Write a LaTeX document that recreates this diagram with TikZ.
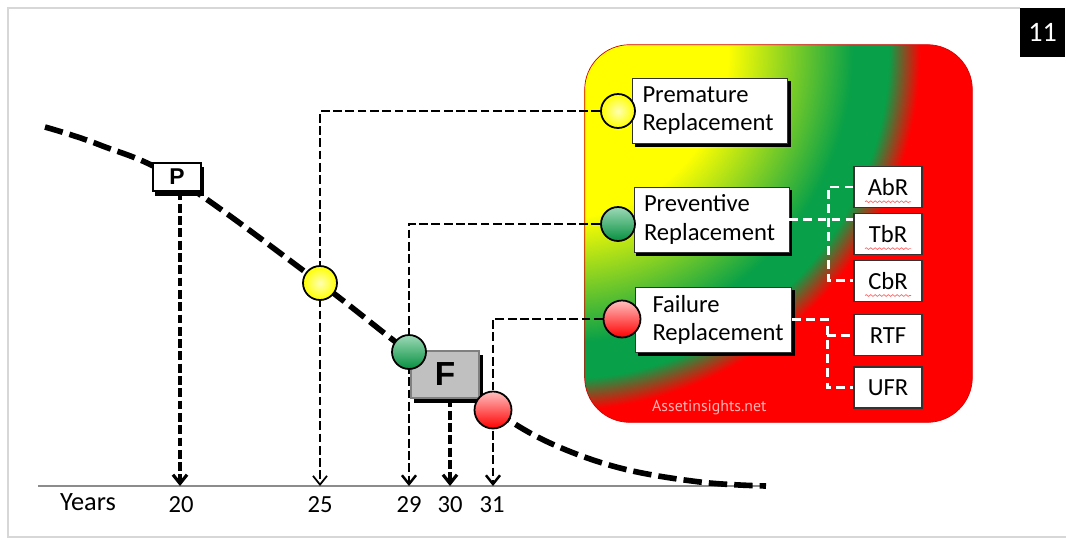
\documentclass[tikz,border=0pt]{standalone}
\usepackage{fontspec}
\setmainfont{Carlito}
\newfontfamily\blockfont{Liberation Sans}
\newfontfamily\markfont{PT Sans}
\usetikzlibrary{arrows.meta,positioning,shadows,calc,decorations.pathmorphing}

\definecolor{leafgreen}{RGB}{8,160,72}
\definecolor{framegray}{RGB}{215,215,215}
\definecolor{axisgray}{RGB}{140,140,140}
\definecolor{boxgray}{RGB}{192,192,192}

\pgfdeclarelayer{panel}
\pgfdeclarelayer{links}
\pgfsetlayers{panel,links,main}

% concentric bands, 25bp = radius of the shaded circle
\pgfdeclareradialshading{panelshade}{\pgfpoint{0bp}{0bp}}{%
  color(0bp)=(yellow); color(7bp)=(yellow); color(12.2bp)=(leafgreen);
  color(13.7bp)=(leafgreen); color(15bp)=(red); color(50bp)=(red)}

\begin{document}
\begin{tikzpicture}[x=0.02cm,y=-0.02cm,>={Straight Barb[length=5pt,width=8pt]},
  lifecurve/.style={line width=3.2pt,dash pattern=on 10.5pt off 4pt},
  drop/.style={->,line width=1.4pt,dash pattern=on 5pt off 2pt},
  forkline/.style={white,line width=1.6pt,dash pattern=on 5pt off 3pt},
  ball/.style={circle,draw=black,line width=1pt,minimum size=0.68cm,inner sep=0pt},
  typebox/.style={draw=black!80,fill=white,line width=0.5pt,align=left,text width=2.7cm,
    inner xsep=0.2cm,minimum height=1.3cm,font=\fontsize{14}{16}\selectfont,
    copy shadow={shadow xshift=1.4pt,shadow yshift=-2.2pt,fill=black,draw=black}},
  tagbox/.style={draw=black!80,fill=white,line width=0.8pt,minimum width=1.36cm,
    minimum height=0.82cm,inner sep=0pt,font=\fontsize{14}{16}\selectfont},
  squiggle/.style={red!60!white,line width=0.4pt,decorate,
    decoration={snake,amplitude=0.5pt,segment length=2.5pt}},
  yearlabel/.style={font=\fontsize{14}{16}\selectfont}
]
\useasboundingbox (0,0) rectangle (1066,539);

% slide frame and page number
\draw[framegray,line width=0.9pt] (1020,8) -- (8,8) -- (8,537) -- (1066,537);
\node[fill=black,text=white,minimum width=0.9cm,minimum height=0.98cm,inner sep=0pt,
  font=\fontsize{16}{18}\selectfont] (pagenum) at (1042.5,32.5) {11};

% replacement types panel
\begin{pgfonlayer}{panel}
\node[minimum width=7.74cm,minimum height=7.54cm] (panel) at (778.5,233.5) {};
\begin{scope}
\clip[rounded corners=0.9cm] (panel.south west) rectangle (panel.north east);
\shade[shading=panelshade] (560,50) circle (600);
\end{scope}
\draw[red!85!black,line width=0.4pt,rounded corners=0.9cm] (panel.south west) rectangle (panel.north east);
\end{pgfonlayer}

\node[typebox] (prem) at (710,110.5) {Premature\\Replacement};
\node[typebox] (prev) at (711.5,219.5) {Preventive\\Replacement};
\node[typebox,text width=2.44cm,inner xsep=0.34cm] (fail) at (713.5,319.5) {Failure\\Replacement};

\node[ball,inner color=yellow!30!white,outer color=yellow] (pc) at (618,111) {};
\node[ball,top color=leafgreen!40!white,bottom color=leafgreen!90!black] (gc) at (618,224) {};
\node[ball,minimum size=0.74cm,top color=red!25!white,bottom color=red] (rc) at (622,319) {};

\node[tagbox] (abr) at (888,187) {AbR};
\node[tagbox,below=0.09cm of abr] (tbr) {TbR};
\node[tagbox,below=0.09cm of tbr] (cbr) {CbR};
\node[tagbox,below=0.24cm of cbr] (rtf) {RTF};
\node[tagbox,below=0.2cm of rtf] (ufr) {UFR};
\foreach \t in {abr,tbr,cbr}
  \draw[squiggle] ([xshift=-0.46cm,yshift=0.13cm]\t.south) -- ([xshift=0.46cm,yshift=0.13cm]\t.south);

\coordinate (pfork) at ($(prev.east -| abr.west)+(-25,0)$);
\coordinate (ffork) at ($(fail.east -| rtf.west)+(-26,0)$);
\draw[forkline] (prev.east) -- (prev.east -| tbr.west);
\draw[forkline] (abr.west) -| (pfork) |- (cbr.west);
\draw[forkline] (fail.east) -- (ffork) |- (ufr.west);
\draw[forkline] (ffork |- rtf.west) -- (rtf.west);

\node[font=\markfont\fontsize{9}{10}\selectfont,text=red!30!white,anchor=west] (mark) at (646,408) {Assetinsights.net};

% time axis
\coordinate (axL) at (38,486);
\coordinate (axR) at (766,486);
\begin{pgfonlayer}{panel}
\draw[axisgray,line width=1.2pt] (axL) -- (axR);
\end{pgfonlayer}
\node[font=\fontsize{15}{17}\selectfont] (yrs) at (88,502) {Years};
\foreach \yr/\xx in {20/181,25/320,29/409,30/450,31/492}
  \node[yearlabel] (y\yr) at (\xx,505) {\yr};

% life curve
\begin{pgfonlayer}{links}
\draw[lifecurve] plot[smooth,tension=0.6] coordinates {(45,127) (100,145) (178,180)
  (320,283) (409,352) (493,410) (550,443) (620,468) (700,482) (766,486)};
\end{pgfonlayer}

\node[draw=black,fill=white,line width=0.6pt,minimum width=0.96cm,minimum height=0.56cm,
  inner sep=0pt,font=\blockfont\bfseries\fontsize{13}{14}\selectfont,
  copy shadow={shadow xshift=1.4pt,shadow yshift=-2.6pt,fill=black,draw=black}] (pbox) at (177,177) {P};
\node[draw=gray,fill=boxgray,line width=0.6pt,minimum width=1.36cm,minimum height=0.94cm,
  inner sep=0pt,font=\blockfont\bfseries\fontsize{19}{20}\selectfont,
  copy shadow={shadow xshift=2pt,shadow yshift=-2.6pt,fill=black,draw=black}] (fbox) at (445,374.5) {F};

\node[ball,inner color=yellow!30!white,outer color=yellow] (ybal) at (320,283) {};
\node[ball,top color=leafgreen!40!white,bottom color=leafgreen!90!black] (gbal) at (409,352) {};
\node[ball,minimum size=0.74cm,top color=red!25!white,bottom color=red] (rbal) at (493,410) {};

% drops to the axis
\begin{pgfonlayer}{links}
\draw[drop,line width=1.8pt] ([xshift=0.06cm]pbox.south) -- ([xshift=0.06cm]pbox.south |- axL);
\draw[drop,line width=1pt] (pc.west) -| (ybal |- axL);
\draw[drop] (gc.west) -| (gbal |- axL);
\draw[drop,line width=1.8pt] ([xshift=0.1cm]fbox.south) -- ([xshift=0.1cm]fbox.south |- axL);
\draw[drop] (rc.west) -| (rbal |- axL);
\end{pgfonlayer}
\end{tikzpicture}
\end{document}
